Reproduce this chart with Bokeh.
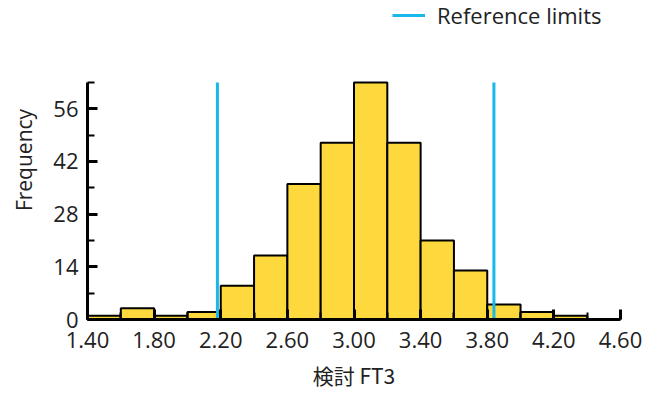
from bokeh.plotting import figure
from bokeh.models import FixedTicker, PrintfTickFormatter, Range1d, Legend, LegendItem
from bokeh.embed import file_html
from bokeh.resources import INLINE

# Data
bin_left = [1.4, 1.6, 1.8, 2.0, 2.2, 2.4, 2.6, 2.8, 3.0, 3.2, 3.4, 3.6, 3.8, 4.0, 4.2]
bin_right = [1.6, 1.8, 2.0, 2.2, 2.4, 2.6, 2.8, 3.0, 3.2, 3.4, 3.6, 3.8, 4.0, 4.2, 4.4]
counts = [1, 3, 1, 2, 9, 17, 36, 47, 63, 47, 21, 13, 4, 2, 1]
ref_limits = [2.18, 3.84]
x_major_ticks = [1.4, 1.8, 2.2, 2.6, 3.0, 3.4, 3.8, 4.2, 4.6]
x_minor_ticks = [1.4, 1.6, 1.8, 2.0, 2.2, 2.4, 2.6, 2.8, 3.0, 3.2, 3.4, 3.6, 3.8, 4.0, 4.2, 4.4, 4.6]
y_major_ticks = [0, 14, 28, 42, 56]
y_minor_ticks = [0, 7, 14, 21, 28, 35, 42, 49, 56, 63]
y_axis_max = 63
x_label = "検討 FT3"
y_label = "Frequency"
legend_label = "Reference limits"

FONT = "Open Sans"
BAR_COLOR = "#FDD93E"
REF_COLOR = "#17B9EA"

W, H = 642, 394
FRAME_BOTTOM = 319
PX_PER_UNIT = 3.7625

p = figure(width=W, height=H, output_backend="svg", toolbar_location=None,
           x_range=Range1d(1.4, 4.6), y_range=Range1d(0, FRAME_BOTTOM / PX_PER_UNIT),
           min_border_left=87, min_border_right=22, min_border_top=0,
           min_border_bottom=H - FRAME_BOTTOM)
p.outline_line_color = None
p.grid.visible = False
p.background_fill_color = "white"
p.border_fill_color = "white"

p.quad(left=bin_left, right=bin_right, bottom=0, top=counts,
       fill_color=BAR_COLOR, line_color="black", line_width=2)

ref = p.segment(x0=ref_limits, y0=[0] * len(ref_limits), x1=ref_limits,
                y1=[y_axis_max] * len(ref_limits), line_color=REF_COLOR, line_width=3)

xa = p.xaxis[0]
xa.ticker = FixedTicker(ticks=x_major_ticks, minor_ticks=x_minor_ticks)
xa.formatter = PrintfTickFormatter(format="%.2f")
ya = p.yaxis[0]
ya.ticker = FixedTicker(ticks=y_major_ticks, minor_ticks=y_minor_ticks)
ya.bounds = (0, y_axis_max)

for ax in (xa, ya):
    ax.axis_line_width = 3
    ax.axis_line_color = "black"
    ax.major_tick_in = 10
    ax.major_tick_out = 0
    ax.minor_tick_in = 7
    ax.minor_tick_out = 0
    ax.major_tick_line_width = 3
    ax.minor_tick_line_width = 2
    ax.major_tick_line_color = "black"
    ax.minor_tick_line_color = "black"
    ax.major_label_text_font = FONT
    ax.major_label_text_font_size = "22px"
    ax.major_label_text_color = "#222222"
    ax.axis_label_text_font_size = "21px"
    ax.axis_label_text_font_style = "normal"
    ax.axis_label_text_color = "#222222"

xa.axis_label = x_label
xa.axis_label_text_font = "Noto Sans CJK JP"
xa.major_label_standoff = 12
xa.axis_label_standoff = 9
ya.axis_label = y_label
ya.axis_label_text_font = FONT
ya.major_label_standoff = 9
ya.axis_label_standoff = 12

legend = Legend(items=[LegendItem(label=legend_label, renderers=[ref])],
                location=(305, 289), orientation="horizontal",
                label_text_font=FONT, label_text_font_size="22px", label_text_color="#222222",
                glyph_width=33, glyph_height=20, label_standoff=12,
                padding=0, margin=0, border_line_color=None, background_fill_alpha=0)
p.add_layout(legend, "center")

open("out.html", "w").write(file_html(p, INLINE))
